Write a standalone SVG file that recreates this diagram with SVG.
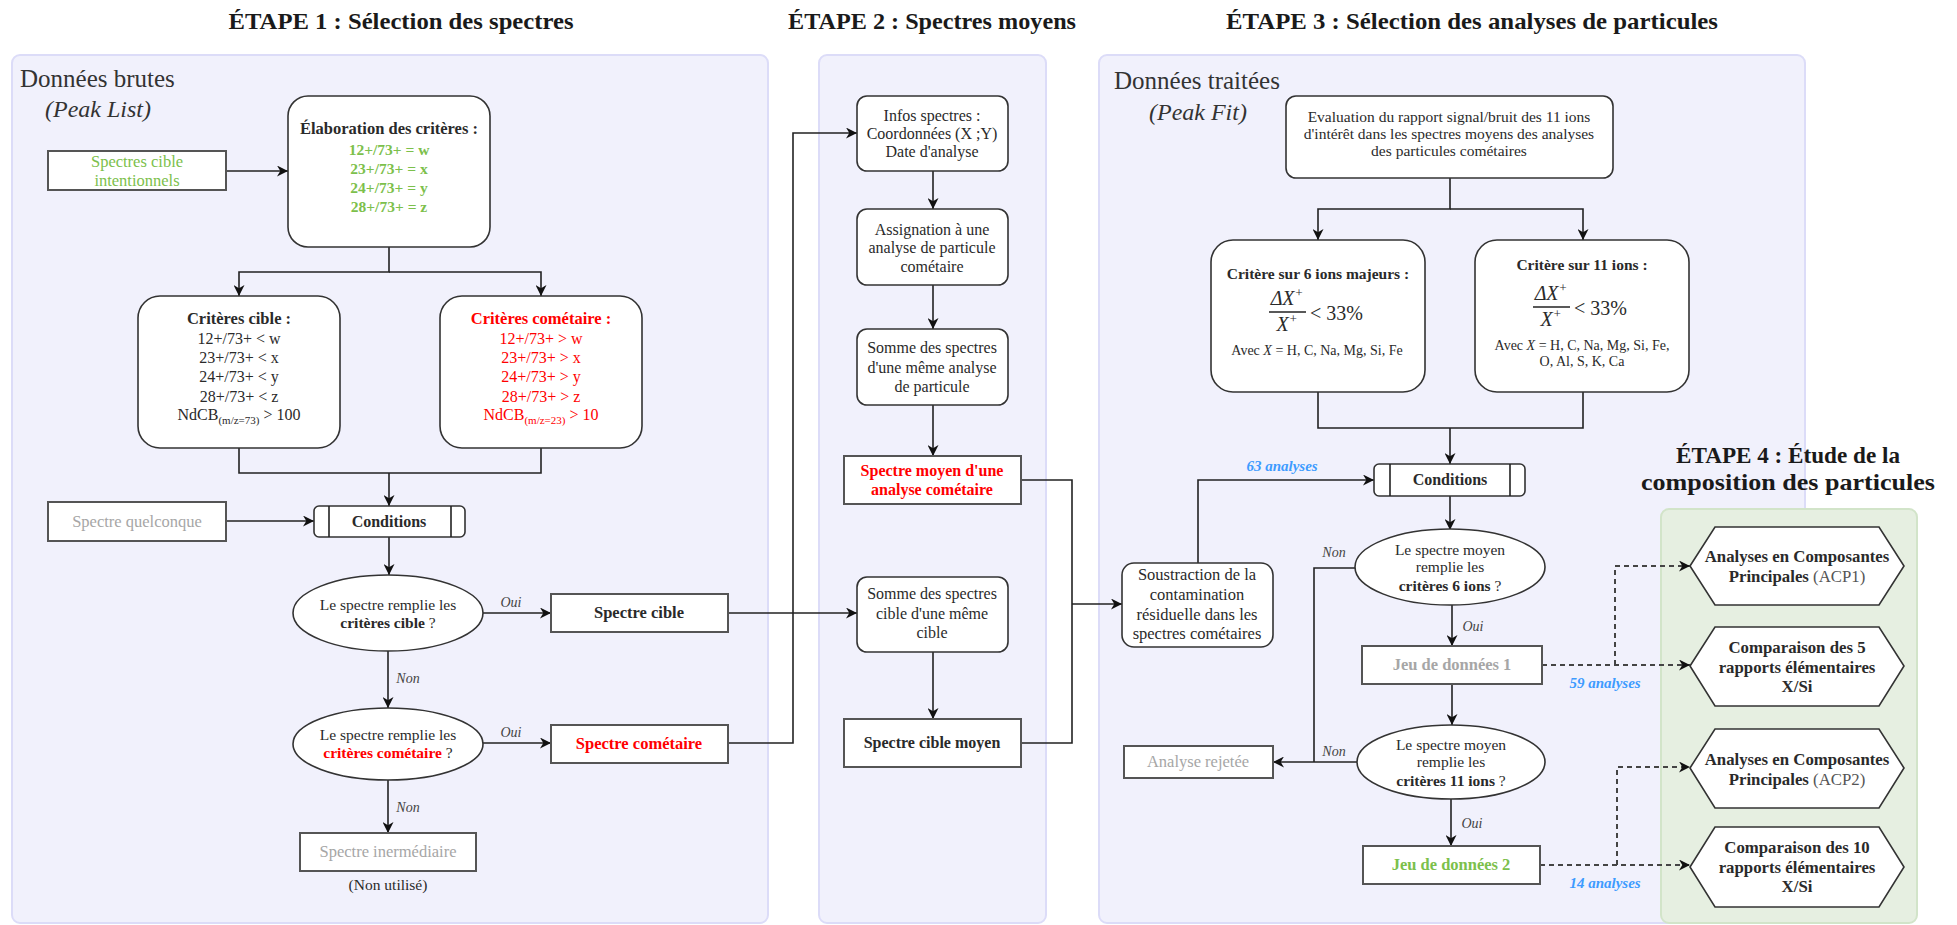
<svg xmlns="http://www.w3.org/2000/svg" width="1957" height="925" viewBox="0 0 1957 925">
<style>
text{font-family:"Liberation Serif","DejaVu Serif",serif;fill:#2a2a2a}
.ttl{font-size:24px;font-weight:bold;text-anchor:middle;fill:#1a1a1a}
.plab{font-size:25px;fill:#333}
.pit{font-size:24px;font-style:italic;fill:#333}
.c{text-anchor:middle}
.s15{font-size:15.5px}
.s16{font-size:16px}
.s165{font-size:16.5px}
.b{font-weight:bold}
.g{fill:#7cc04b}
.r{fill:#ff0000}
.gr{fill:#a6a6a6}
.bl{fill:#3d9bff;font-weight:bold;font-style:italic;font-size:15px;text-anchor:middle}
.lab{font-style:italic;font-size:14px;fill:#444;text-anchor:middle}
.panel{fill:#f1f1fc;stroke:#dcdcf8;stroke-width:2}
.panel4{fill:#e6efe1;stroke:#d2e4c9;stroke-width:2}
.rb{fill:#fff;stroke:#333;stroke-width:1.6}
.sq{fill:#fff;stroke:#555;stroke-width:2}
.e{fill:none;stroke:#222;stroke-width:1.6}
.d{fill:none;stroke:#444;stroke-width:2;stroke-dasharray:5 4}
.fx{font-size:20px;font-style:italic;text-anchor:middle}
</style>
<defs>
<marker id="arr" viewBox="0 0 10 10" refX="10" refY="5" markerWidth="11" markerHeight="11" markerUnits="userSpaceOnUse" orient="auto">
<path d="M0,0 L10,5 L0,10 L3,5 z" fill="#111"/>
</marker>
</defs>

<g id="panels">
<rect class="panel" x="12" y="55" width="756" height="868" rx="8"/>
<rect class="panel" x="819" y="55" width="227" height="868" rx="8"/>
<rect class="panel" x="1099" y="55" width="706" height="868" rx="8"/>
<rect class="panel4" x="1661" y="509" width="256" height="414" rx="8"/>
</g>

<g id="titles">
<text class="ttl" x="401" y="29" textLength="345" lengthAdjust="spacingAndGlyphs">ÉTAPE 1 : Sélection des spectres</text>
<text class="ttl" x="932" y="29" textLength="288" lengthAdjust="spacingAndGlyphs">ÉTAPE 2 : Spectres moyens</text>
<text class="ttl" x="1472" y="29" textLength="492" lengthAdjust="spacingAndGlyphs">ÉTAPE 3 : Sélection des analyses de particules</text>
<text class="ttl" x="1788" y="463" textLength="224" lengthAdjust="spacingAndGlyphs">ÉTAPE 4 : Étude de la</text>
<text class="ttl" x="1788" y="490" textLength="294" lengthAdjust="spacingAndGlyphs">composition des particules</text>
<text class="plab" x="20" y="87">Données brutes</text>
<text class="pit" x="45" y="117">(Peak List)</text>
<text class="plab" x="1114" y="89">Données traitées</text>
<text class="pit" x="1149" y="120">(Peak Fit)</text>
</g>

<g id="connectors">
<path class="e" d="M226,171 H288" marker-end="url(#arr)"/>
<path class="e" d="M389,247 V272 H239 V296" marker-end="url(#arr)"/>
<path class="e" d="M389,272 H541 V296" marker-end="url(#arr)"/>
<path class="e" d="M239,448 V473 H541 V448"/>
<path class="e" d="M389,473 V506" marker-end="url(#arr)"/>
<path class="e" d="M226,521 H314" marker-end="url(#arr)"/>
<path class="e" d="M389,537 V575" marker-end="url(#arr)"/>
<path class="e" d="M483,613 H551" marker-end="url(#arr)"/>
<path class="e" d="M388,651 V708" marker-end="url(#arr)"/>
<path class="e" d="M483,743 H551" marker-end="url(#arr)"/>
<path class="e" d="M388,780 V833" marker-end="url(#arr)"/>
<path class="e" d="M728,743 H793 V133 H857" marker-end="url(#arr)"/>
<path class="e" d="M728,613 H857" marker-end="url(#arr)"/>
<path class="e" d="M933,171 V209" marker-end="url(#arr)"/>
<path class="e" d="M933,285 V329" marker-end="url(#arr)"/>
<path class="e" d="M933,405 V456" marker-end="url(#arr)"/>
<path class="e" d="M933,652 V719" marker-end="url(#arr)"/>
<path class="e" d="M1021,480 H1072 V743 H1021"/>
<path class="e" d="M1072,604 H1122" marker-end="url(#arr)"/>
<path class="e" d="M1450,178 V209 H1318 V240" marker-end="url(#arr)"/>
<path class="e" d="M1450,209 H1583 V240" marker-end="url(#arr)"/>
<path class="e" d="M1318,392 V428 H1583 V392"/>
<path class="e" d="M1450,428 V464" marker-end="url(#arr)"/>
<path class="e" d="M1198,563 V480 H1374" marker-end="url(#arr)"/>
<path class="e" d="M1450,496 V530" marker-end="url(#arr)"/>
<path class="e" d="M1355,568 H1314 V762"/>
<path class="e" d="M1357,762 H1273" marker-end="url(#arr)"/>
<path class="e" d="M1452,605 V646" marker-end="url(#arr)"/>
<path class="e" d="M1452,684 V725" marker-end="url(#arr)"/>
<path class="e" d="M1451,798 V846" marker-end="url(#arr)"/>
<path class="d" d="M1542,665 H1690" marker-end="url(#arr)"/>
<path class="d" d="M1615,665 V566 H1690" marker-end="url(#arr)"/>
<path class="d" d="M1540,865 H1690" marker-end="url(#arr)"/>
<path class="d" d="M1617,865 V767 H1690" marker-end="url(#arr)"/>
<text class="lab" x="511" y="607">Oui</text>
<text class="lab" x="408" y="683">Non</text>
<text class="lab" x="511" y="737">Oui</text>
<text class="lab" x="408" y="812">Non</text>
<text class="bl" x="1282" y="471">63 analyses</text>
<text class="lab" x="1334" y="557">Non</text>
<text class="lab" x="1473" y="631">Oui</text>
<text class="lab" x="1334" y="756">Non</text>
<text class="lab" x="1472" y="828">Oui</text>
<text class="bl" x="1605" y="688">59 analyses</text>
<text class="bl" x="1605" y="888">14 analyses</text>
</g>

<g id="n-intentionnels">
<rect class="sq" x="48" y="151" width="178" height="39"/>
<text class="c s165 g" x="137" y="167">Spectres cible</text>
<text class="c s165 g" x="137" y="186">intentionnels</text>
</g>

<g id="n-elaboration">
<rect class="rb" x="288" y="96" width="202" height="151" rx="20"/>
<text class="c s165 b" x="389" y="134">Élaboration des critères :</text>
<text class="c s15 b g" x="389" y="155">12+/73+ = w</text>
<text class="c s15 b g" x="389" y="174">23+/73+ = x</text>
<text class="c s15 b g" x="389" y="193">24+/73+ = y</text>
<text class="c s15 b g" x="389" y="212">28+/73+ = z</text>
</g>

<g id="n-criteres-cible">
<rect class="rb" x="138" y="296" width="202" height="152" rx="22"/>
<text class="c s165 b" x="239" y="324">Critères cible :</text>
<text class="c s16" x="239" y="344">12+/73+ &lt; w</text>
<text class="c s16" x="239" y="363">23+/73+ &lt; x</text>
<text class="c s16" x="239" y="382">24+/73+ &lt; y</text>
<text class="c s16" x="239" y="402">28+/73+ &lt; z</text>
<text class="c s16" x="239" y="420">NdCB<tspan font-size="11" dy="4">(m/z=73)</tspan><tspan dy="-4"> &gt; 100</tspan></text>
</g>

<g id="n-criteres-cometaire">
<rect class="rb" x="440" y="296" width="202" height="152" rx="22"/>
<text class="c s165 b r" x="541" y="324">Critères cométaire :</text>
<text class="c s16 r" x="541" y="344">12+/73+ &gt; w</text>
<text class="c s16 r" x="541" y="363">23+/73+ &gt; x</text>
<text class="c s16 r" x="541" y="382">24+/73+ &gt; y</text>
<text class="c s16 r" x="541" y="402">28+/73+ &gt; z</text>
<text class="c s16 r" x="541" y="420">NdCB<tspan font-size="11" dy="4">(m/z=23)</tspan><tspan dy="-4"> &gt; 10</tspan></text>
</g>

<g id="n-conditions1">
<rect class="rb" x="314" y="506" width="151" height="31" rx="5"/>
<path class="e" d="M329,506 V537 M451,506 V537"/>
<text class="c s16 b" x="389" y="527">Conditions</text>
</g>

<g id="n-quelconque">
<rect class="sq" x="48" y="502" width="178" height="39"/>
<text class="c s165 gr" x="137" y="527">Spectre quelconque</text>
</g>

<g id="n-q-cible">
<ellipse class="rb" cx="388" cy="613" rx="95" ry="38"/>
<text class="c s15" x="388" y="610">Le spectre remplie les</text>
<text class="c s15" x="388" y="628"><tspan class="b">critères cible</tspan> ?</text>
</g>

<g id="n-spectre-cible">
<rect class="sq" x="551" y="594" width="177" height="38"/>
<text class="c s165 b" x="639" y="618">Spectre cible</text>
</g>

<g id="n-q-cometaire">
<ellipse class="rb" cx="388" cy="744" rx="95" ry="36"/>
<text class="c s15" x="388" y="740">Le spectre remplie les</text>
<text class="c s15" x="388" y="758"><tspan class="b r">critères cométaire</tspan> ?</text>
</g>

<g id="n-spectre-cometaire">
<rect class="sq" x="551" y="725" width="177" height="38"/>
<text class="c s165 b r" x="639" y="749">Spectre cométaire</text>
</g>

<g id="n-intermediaire">
<rect class="sq" x="300" y="833" width="176" height="38"/>
<text class="c s165 gr" x="388" y="857">Spectre inermédiaire</text>
<text class="c s15" x="388" y="890">(Non utilisé)</text>
</g>

<g id="n-infos">
<rect class="rb" x="857" y="96" width="151" height="75" rx="10"/>
<text class="c s16" x="932" y="121">Infos spectres :</text>
<text class="c s16" x="932" y="139">Coordonnées (X ;Y)</text>
<text class="c s16" x="932" y="157">Date d'analyse</text>
</g>

<g id="n-assignation">
<rect class="rb" x="857" y="209" width="151" height="76" rx="10"/>
<text class="c s16" x="932" y="235">Assignation à une</text>
<text class="c s16" x="932" y="253">analyse de particule</text>
<text class="c s16" x="932" y="272">cométaire</text>
</g>

<g id="n-somme">
<rect class="rb" x="857" y="329" width="151" height="76" rx="10"/>
<text class="c s16" x="932" y="353">Somme des spectres</text>
<text class="c s16" x="932" y="373">d'une même analyse</text>
<text class="c s16" x="932" y="392">de particule</text>
</g>

<g id="n-spectre-moyen">
<rect class="sq" x="844" y="456" width="177" height="48"/>
<text class="c s16 b r" x="932" y="476">Spectre moyen d'une</text>
<text class="c s16 b r" x="932" y="495">analyse cométaire</text>
</g>

<g id="n-somme-cible">
<rect class="rb" x="857" y="577" width="151" height="75" rx="10"/>
<text class="c s16" x="932" y="599">Somme des spectres</text>
<text class="c s16" x="932" y="619">cible d'une même</text>
<text class="c s16" x="932" y="638">cible</text>
</g>

<g id="n-cible-moyen">
<rect class="sq" x="844" y="719" width="177" height="48"/>
<text class="c s16 b" x="932" y="748">Spectre cible moyen</text>
</g>

<g id="n-evaluation">
<rect class="rb" x="1286" y="96" width="327" height="82" rx="10"/>
<text class="c" font-size="15.5" x="1449" y="122">Evaluation du rapport signal/bruit des 11 ions</text>
<text class="c" font-size="15.5" x="1449" y="139">d'intérêt dans les spectres moyens des analyses</text>
<text class="c" font-size="15.5" x="1449" y="156">des particules cométaires</text>
</g>

<g id="n-critere6">
<rect class="rb" x="1211" y="240" width="214" height="152" rx="22"/>
<text class="c b" font-size="15.5" x="1318" y="279">Critère sur 6 ions majeurs :</text>
<text class="fx" x="1287" y="305">ΔX<tspan font-size="13" dy="-8">+</tspan></text>
<path d="M1269,312 H1306" stroke="#222" stroke-width="1.3"/>
<text class="fx" x="1287" y="331">X<tspan font-size="13" dy="-8">+</tspan></text>
<text font-size="20" x="1310" y="320">&lt; 33%</text>
<text class="c" font-size="14" x="1317" y="355">Avec <tspan font-style="italic">X</tspan> = H, C, Na, Mg, Si, Fe</text>
</g>

<g id="n-critere11">
<rect class="rb" x="1475" y="240" width="214" height="152" rx="22"/>
<text class="c b" font-size="15.5" x="1582" y="270">Critère sur 11 ions :</text>
<text class="fx" x="1551" y="300">ΔX<tspan font-size="13" dy="-8">+</tspan></text>
<path d="M1533,307 H1570" stroke="#222" stroke-width="1.3"/>
<text class="fx" x="1551" y="326">X<tspan font-size="13" dy="-8">+</tspan></text>
<text font-size="20" x="1574" y="315">&lt; 33%</text>
<text class="c" font-size="14" x="1582" y="350">Avec <tspan font-style="italic">X</tspan> = H, C, Na, Mg, Si, Fe,</text>
<text class="c" font-size="14" x="1582" y="366">O, Al, S, K, Ca</text>
</g>

<g id="n-conditions2">
<rect class="rb" x="1374" y="464" width="151" height="32" rx="5"/>
<path class="e" d="M1390,464 V496 M1510,464 V496"/>
<text class="c s16 b" x="1450" y="485">Conditions</text>
</g>

<g id="n-soustraction">
<rect class="rb" x="1122" y="563" width="151" height="84" rx="12"/>
<text class="c s165" x="1197" y="580">Soustraction de la</text>
<text class="c s165" x="1197" y="600">contamination</text>
<text class="c s165" x="1197" y="620">résiduelle dans les</text>
<text class="c s165" x="1197" y="639">spectres cométaires</text>
</g>

<g id="n-q-6ions">
<ellipse class="rb" cx="1450" cy="567" rx="95" ry="38"/>
<text class="c s15" x="1450" y="555">Le spectre moyen</text>
<text class="c s15" x="1450" y="572">remplie les</text>
<text class="c s15" x="1450" y="591"><tspan class="b">critères 6 ions</tspan> ?</text>
</g>

<g id="n-jeu1">
<rect class="sq" x="1362" y="646" width="180" height="38"/>
<text class="c s165 b gr" x="1452" y="670">Jeu de données 1</text>
</g>

<g id="n-q-11ions">
<ellipse class="rb" cx="1451" cy="762" rx="94" ry="37"/>
<text class="c s15" x="1451" y="750">Le spectre moyen</text>
<text class="c s15" x="1451" y="767">remplie les</text>
<text class="c s15" x="1451" y="786"><tspan class="b">critères 11 ions</tspan> ?</text>
</g>

<g id="n-rejetee">
<rect class="sq" x="1124" y="746" width="149" height="32"/>
<text class="c s165 gr" x="1198" y="767">Analyse rejetée</text>
</g>

<g id="n-jeu2">
<rect class="sq" x="1363" y="846" width="177" height="38"/>
<text class="c s165 b g" x="1451" y="870">Jeu de données 2</text>
</g>

<g id="n-acp1">
<polygon class="rb" points="1690,566 1715,527 1879,527 1904,566 1879,605 1715,605"/>
<text class="c b" font-size="16.8" x="1797" y="562">Analyses en Composantes</text>
<text class="c b" font-size="16.8" x="1797" y="582">Principales <tspan font-weight="normal" fill="#555">(ACP1)</tspan></text>
</g>

<g id="n-comp5">
<polygon class="rb" points="1690,666 1715,627 1879,627 1904,666 1879,706 1715,706"/>
<text class="c b" font-size="16.8" x="1797" y="653">Comparaison des 5</text>
<text class="c b" font-size="16.8" x="1797" y="673">rapports élémentaires</text>
<text class="c b" font-size="16.8" x="1797" y="692">X/Si</text>
</g>

<g id="n-acp2">
<polygon class="rb" points="1690,768 1715,729 1879,729 1904,768 1879,808 1715,808"/>
<text class="c b" font-size="16.8" x="1797" y="765">Analyses en Composantes</text>
<text class="c b" font-size="16.8" x="1797" y="785">Principales <tspan font-weight="normal" fill="#555">(ACP2)</tspan></text>
</g>

<g id="n-comp10">
<polygon class="rb" points="1690,867 1715,827 1879,827 1904,867 1879,907 1715,907"/>
<text class="c b" font-size="16.8" x="1797" y="853">Comparaison des 10</text>
<text class="c b" font-size="16.8" x="1797" y="873">rapports élémentaires</text>
<text class="c b" font-size="16.8" x="1797" y="892">X/Si</text>
</g>
</svg>
